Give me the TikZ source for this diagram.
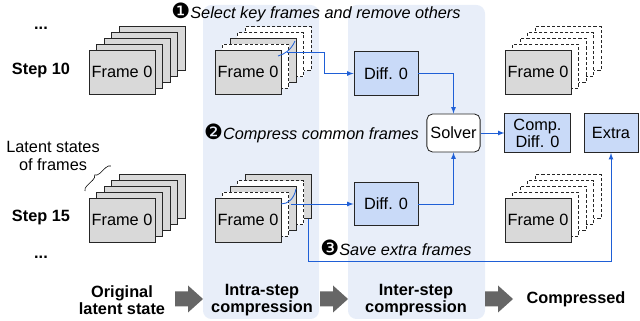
\documentclass[tikz,border=0pt]{standalone}
\usepackage{fontspec}
\setmainfont{Liberation Sans}
\newfontfamily\dingfont{DejaVu Sans}
\usepackage{tikz}
\usetikzlibrary{arrows,decorations.pathreplacing}

\definecolor{panelblue}{HTML}{E8EEF9}
\definecolor{diffblue}{HTML}{C9DAF8}
\definecolor{linkblue}{HTML}{1F5FD6}
\definecolor{framegray}{HTML}{D9D9D9}
\definecolor{arrowgray}{HTML}{666666}

\newcommand{\stepmark}[1]{{\dingfont\fontsize{15}{15}\selectfont #1}}

\tikzset{
	framebox/.style = { draw = black!85, fill = framegray, line width = 0.6pt,
		minimum width = 1.65cm, minimum height = 1.1cm, inner sep = 0pt },
	dropbox/.style = { framebox, fill = white, dash pattern = on 2.2pt off 1.5pt },
	diffbox/.style = { framebox, fill = diffblue, minimum width = 1.6cm, minimum height = 1.08cm },
	link/.style = { draw = linkblue, line width = 0.6pt, -latex },
	wire/.style = { draw = linkblue, line width = 0.6pt },
}

\begin{document}
\begin{tikzpicture}[ x = 0.025cm, y = -0.025cm,
	every node/.style = { font = \fontsize{11.6}{12.2}\selectfont } ]
	\useasboundingbox (0,0) rectangle (640,321);
	\fill [ panelblue, rounded corners = 6pt ] (203,5) rectangle (319,319);
	\fill [ panelblue, rounded corners = 6pt ] (348,5) rectangle (485,319);

	\node (dots1) at (41,28) {\textbf{...}};
	\node (st10) at (41,70) {\textbf{Step 10}};
	\node (lat) at (53,156) [ align = center ] {Latent states\\of frames};
	\node (st15) at (41,217) {\textbf{Step 15}};
	\node (dots2) at (41,257) {\textbf{...}};
	\draw [ decorate, decoration = { brace, amplitude = 3.5pt } ] (85,191) -- (111,166);

	\foreach \k in {4,3,2,1}
		\node [ framebox ] (o10-\k) at ({122+7.5*\k},{72-5.83*\k}) {};
	\node [ framebox ] (o10-0) at (122,72) {Frame 0};
	\foreach \k in {4,3,2,1}
		\node [ framebox ] (o15-\k) at ({122+7.5*\k},{220-5.83*\k}) {};
	\node [ framebox ] (o15-0) at (122,220) {Frame 0};

	\foreach \k/\s in {4/dropbox,3/dropbox,2/framebox,1/dropbox}
		\node [ \s ] (i10-\k) at ({248+7.5*\k},{72-5.83*\k}) {};
	\node [ framebox ] (i10-0) at (248,72) {Frame 0};
	\foreach \k/\s in {4/framebox,3/dropbox,2/framebox,1/dropbox}
		\node [ \s ] (i15-\k) at ({248+7.5*\k},{220-5.83*\k}) {};
	\node [ framebox ] (i15-0) at (248,220) {Frame 0};

	\foreach \k in {4,3,2,1}
		\node [ dropbox ] (c10-\k) at ({538+7.5*\k},{72-5.83*\k}) {};
	\node [ framebox ] (c10-0) at (538,72) {Frame 0};
	\foreach \k in {4,3,2,1}
		\node [ dropbox ] (c15-\k) at ({538+7.5*\k},{220-5.83*\k}) {};
	\node [ framebox ] (c15-0) at (538,220) {Frame 0};

	\node [ diffbox ] (d10) at (386,73.5) {Diff. 0};
	\node [ diffbox ] (d15) at (386,204) {Diff. 0};
	\node [ framebox, fill = white, rounded corners = 4pt,
		minimum width = 1.33cm, minimum height = 0.95cm ] (sv) at (453.5,133) {Solver};
	\node [ diffbox, align = center, minimum width = 1.63cm, minimum height = 0.98cm ]
		(cd) at (537.5,133) {Comp.\\Diff. 0};
	\node [ diffbox, minimum width = 1.35cm, minimum height = 0.98cm ] (ex) at (611,133) {Extra};

	\coordinate (s10a) at (278,56);
	\coordinate (s10b) at (295,41);
	\coordinate (s10) at (287,52);
	\draw [ wire ] (s10a) .. controls (285,54) and (291,50) .. (s10b);
	\draw [ link ] (s10) -- ++(37,0) |- (d10);
	\coordinate (s15a) at (281,204);
	\coordinate (s15b) at (296,189);
	\coordinate (s15) at (291,204);
	\draw [ wire ] (s15a) .. controls (288,204) and (294,199) .. (s15b);
	\draw [ link ] (s15) -- (d15);
	\draw [ link ] (d10) -| (sv);
	\draw [ link ] (d15) -| (sv);
	\draw [ link ] (sv) -- (cd);
	\coordinate (e15) at (308,219);
	\draw [ link ] (e15) -- ++(0,42) -| (ex);

	\node (n1) at (316,12) {\stepmark{❶}\itshape Select key frames and remove others};
	\node (n2) at (311.5,133) {\stepmark{❷}\itshape Compress common frames};
	\node (n3) at (396,248) {\stepmark{❸}\itshape Save extra frames};

	\foreach \x in {175,320,485}
		\fill [ arrowgray ] (\x,291.5) -- ++(13,0) -- ++(0,-6) -- ++(15,13.5)
			-- ++(-15,13.5) -- ++(0,-6) -- ++(-13,0) -- cycle;
	\node (b1) at (122,300.5) [ align = center ] {\textbf{Original}\\\textbf{latent state}};
	\node (b2) at (262,300.5) [ align = center ] {\textbf{Intra-step}\\\textbf{compression}};
	\node (b3) at (416,300.5) [ align = center ] {\textbf{Inter-step}\\\textbf{compression}};
	\node (b4) at (576,299) {\textbf{Compressed}};
\end{tikzpicture}
\end{document}
